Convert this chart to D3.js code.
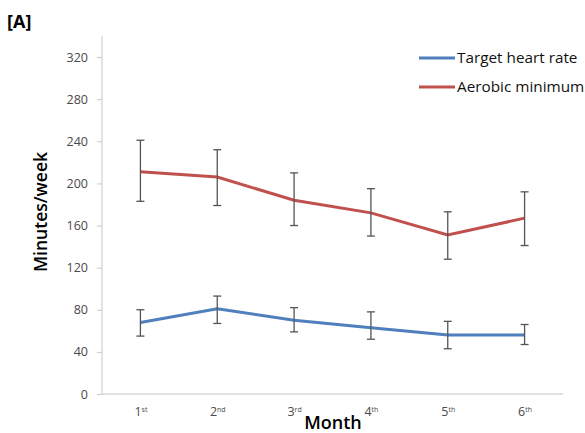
<!DOCTYPE html>
<html><head><meta charset="utf-8">
<script src="https://cdn.jsdelivr.net/npm/d3@7"></script>
<style>body{margin:0;background:#fff}</style>
</head><body>
<svg id="c" width="585" height="433"></svg>
<script>
const months = ["1", "2", "3", "4", "5", "6"];
const suffixes = ["st", "nd", "rd", "th", "th", "th"];
const yTicks = [0, 40, 80, 120, 160, 200, 240, 280, 320];
const seriesNames = ["Target heart rate", "Aerobic minimum"];
const targetMean = [68, 81, 70, 63, 56, 56];
const targetLow = [55, 67, 59, 52, 43, 47];
const targetHigh = [80, 93, 82, 78, 69, 66];
const aerobicMean = [211, 206, 184, 172, 151, 167];
const aerobicLow = [183, 179, 160, 150, 128, 141];
const aerobicHigh = [241, 232, 210, 195, 173, 192];

const svg = d3.select("#c");
const m = {l: 102, r: 563, t: 36, b: 394};
const x = d3.scalePoint().domain(months).range([m.l, m.r]).padding(0.5);
const y = d3.scaleLinear().domain([0, 340]).range([m.b, m.t]);
const font = "'Open Sans', 'DejaVu Sans', sans-serif";

// axes
const yAxis = svg.append("g").attr("transform", `translate(${m.l},0)`)
  .call(d3.axisLeft(y).tickValues(yTicks).tickSize(5).tickPadding(9));
yAxis.select(".domain").attr("stroke", "#c8c8c8").attr("d", `M0,${m.t}V${m.b}`);
yAxis.selectAll(".tick line").attr("stroke", "#c8c8c8");
yAxis.selectAll(".tick text").attr("fill", "#4a4a4a").style("font-size", "12.5px").style("font-family", font);

const xAxis = svg.append("g").attr("transform", `translate(0,${m.b})`)
  .call(d3.axisBottom(x).tickSize(0).tickPadding(9).tickFormat(""));
xAxis.select(".domain").attr("stroke", "#c8c8c8").attr("d", `M${m.l},0H${m.r}`);
xAxis.selectAll(".tick text").each(function(d, i) {
  const t = d3.select(this).text(null).attr("fill", "#4a4a4a").style("font-size", "12.5px").style("font-family", font).attr("dy", "1.05em");
  t.append("tspan").text(d);
  t.append("tspan").text(suffixes[i]).style("font-size", "7px").attr("dy", "-0.6em");
});

// series
const series = [
  {name: seriesNames[0], mean: targetMean, lo: targetLow, hi: targetHigh, color: "#4f7fbd"},
  {name: seriesNames[1], mean: aerobicMean, lo: aerobicLow, hi: aerobicHigh, color: "#c0504d"}
];
const line = d3.line().x((d, i) => x(months[i])).y(d => y(d));
series.forEach(s => {
  svg.append("path").datum(s.mean).attr("d", line).attr("fill", "none")
    .attr("stroke", s.color).attr("stroke-width", 3);
});
series.forEach(s => {
  const g = svg.append("g").attr("stroke", "#555").attr("stroke-width", 1.3);
  months.forEach((mo, i) => {
    const cx = x(mo);
    g.append("line").attr("x1", cx).attr("x2", cx).attr("y1", y(s.lo[i])).attr("y2", y(s.hi[i]));
    g.append("line").attr("x1", cx - 4).attr("x2", cx + 4).attr("y1", y(s.lo[i])).attr("y2", y(s.lo[i]));
    g.append("line").attr("x1", cx - 4).attr("x2", cx + 4).attr("y1", y(s.hi[i])).attr("y2", y(s.hi[i]));
  });
});

// legend
series.forEach((s, i) => {
  const ly = 58 + i * 29;
  svg.append("line").attr("x1", 419).attr("x2", 455).attr("y1", ly).attr("y2", ly)
    .attr("stroke", s.color).attr("stroke-width", 3);
  svg.append("text").attr("x", 457).attr("y", ly + 5).text(s.name)
    .style("font-size", "15.3px").style("font-family", font).attr("fill", "#111");
});

// titles
svg.append("text").attr("x", 333).attr("y", 429).attr("text-anchor", "middle").text("Month")
  .style("font-size", "18px").style("font-weight", 600).style("font-family", font).attr("fill", "#000");
svg.append("text").attr("transform", "translate(47,212) rotate(-90)").attr("text-anchor", "middle").text("Minutes/week")
  .style("font-size", "17.5px").style("font-weight", 600).style("font-family", font).attr("fill", "#000");
svg.append("text").attr("x", 7).attr("y", 28).text("[A]")
  .style("font-size", "18px").style("font-weight", 700).style("font-family", font).attr("fill", "#000");
</script>
</body></html>
